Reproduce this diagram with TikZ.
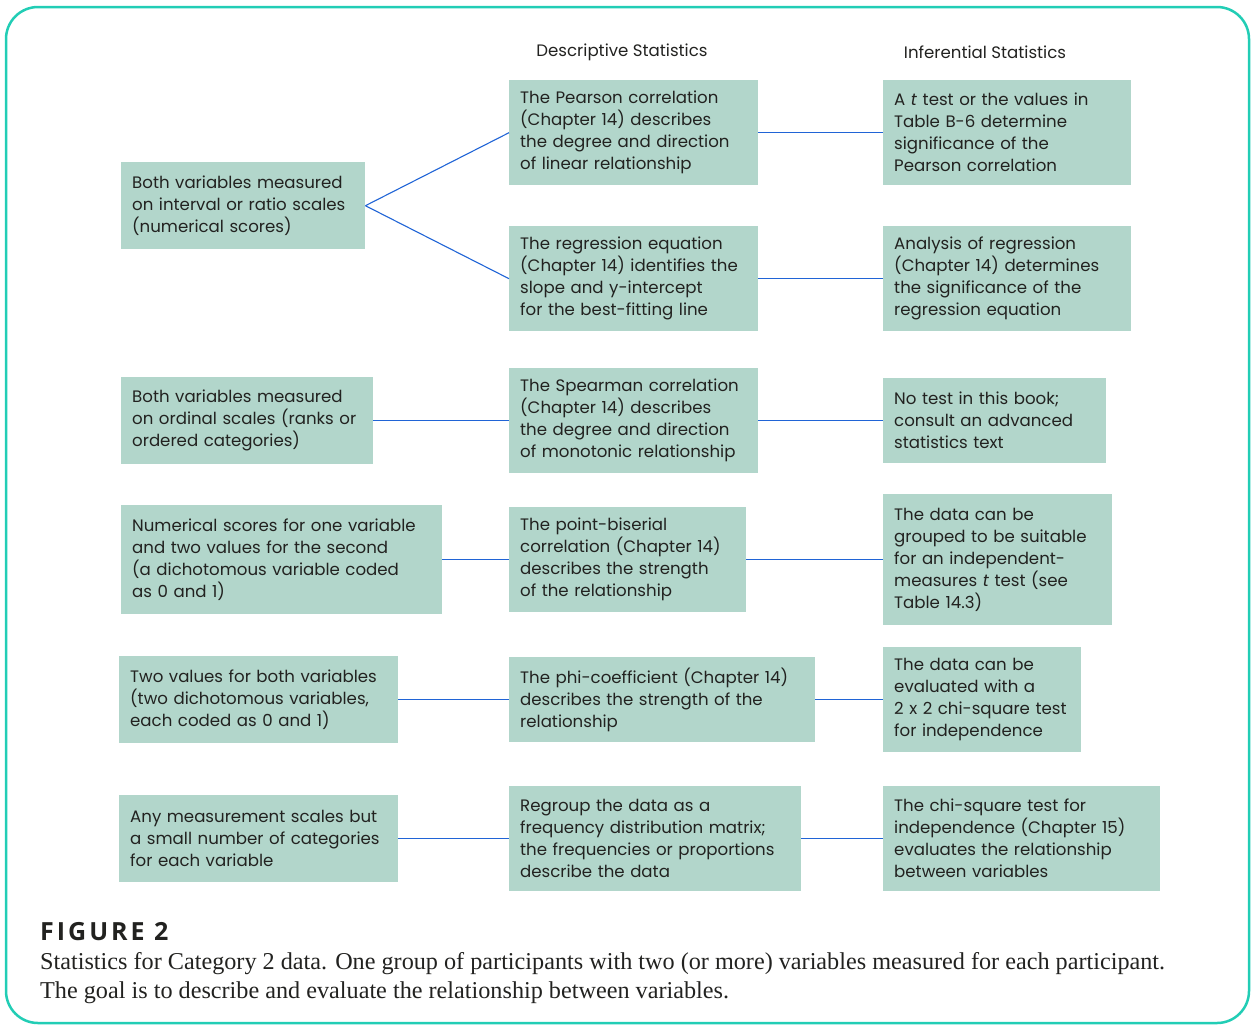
\documentclass[tikz,border=0pt]{standalone}
\usepackage{fontspec}
\setmainfont{Liberation Serif}
\newfontfamily\boxfont{Poppins}
\newfontfamily\figfont[LetterSpace=12]{Open Sans}

\definecolor{rahmen}{HTML}{22CDB5}
\definecolor{kastenfarbe}{HTML}{B2D6CB}
\definecolor{linie}{HTML}{2064D6}
\definecolor{schrift}{HTML}{222220}

\begin{document}
\begin{tikzpicture}[x=1pt, y=-1pt,
    kasten/.style={fill=kastenfarbe, anchor=north west, align=left,
        inner xsep=11pt, inner ysep=0pt, text=schrift,
        font=\boxfont\fontsize{16.6}{22}\selectfont},
    kopf/.style={text=schrift, font=\boxfont\fontsize{16.6}{22}\selectfont},
    verbindung/.style={linie, line width=1.1pt}]

    % Rahmen
    \useasboundingbox (0,0) rectangle (1252,1026);
    \draw[rahmen, line width=2.5pt, rounded corners=32pt] (6,7) rectangle (1249,1023);

    % Spaltenkoepfe
    \node[kopf] (kopfD) at (622,52) {Descriptive Statistics};
    \node[kopf] (kopfI) at (985,52) {Inferential Statistics};

    % Linke Spalte: Datenarten
    \node[kasten, text width=222, minimum height=87] (L1) at (121,162)
        {Both variables measured\\on interval or ratio scales\\(numerical scores)};
    \node[kasten, text width=230, minimum height=87] (L2) at (121,377)
        {Both variables measured\\on ordinal scales (ranks or\\ordered categories)};
    \node[kasten, text width=299, minimum height=109] (L3) at (121,505)
        {Numerical scores for one variable\\and two values for the second\\(a dichotomous variable coded\\as 0 and 1)};
    \node[kasten, text width=257, minimum height=87] (L4) at (119,656)
        {Two values for both variables\\(two dichotomous variables,\\each coded as 0 and 1)};
    \node[kasten, text width=257, minimum height=87] (L5) at (119,795)
        {Any measurement scales but\\a small number of categories\\for each variable};

    % Mittlere Spalte: deskriptive Statistik
    \node[kasten, text width=227, minimum height=105] (M1) at (509,80)
        {The Pearson correlation\\(Chapter 14) describes\\the degree and direction\\of linear relationship};
    \node[kasten, text width=227, minimum height=105] (M2) at (509,226)
        {The regression equation\\(Chapter 14) identifies the\\slope and y-intercept\\for the best-fitting line};
    \node[kasten, text width=227, minimum height=105] (M3) at (509,368)
        {The Spearman correlation\\(Chapter 14) describes\\the degree and direction\\of monotonic relationship};
    \node[kasten, text width=215, minimum height=105] (M4) at (509,507)
        {The point-biserial\\correlation (Chapter 14)\\describes the strength\\of the relationship};
    \node[kasten, text width=284, minimum height=85] (M5) at (509,657)
        {The phi-coefficient (Chapter 14)\\describes the strength of the\\relationship};
    \node[kasten, text width=270, minimum height=105] (M6) at (509,786)
        {Regroup the data as a\\frequency distribution matrix;\\the frequencies or proportions\\describe the data};

    % Rechte Spalte: Inferenzstatistik
    \node[kasten, text width=226, minimum height=105] (R1) at (883,80)
        {A \textit{t} test or the values in\\Table B-6 determine\\significance of the\\Pearson correlation};
    \node[kasten, text width=226, minimum height=105] (R2) at (883,226)
        {Analysis of regression\\(Chapter 14) determines\\the significance of the\\regression equation};
    \node[kasten, text width=201, minimum height=85] (R3) at (883,378)
        {No test in this book;\\consult an advanced\\statistics text};
    \node[kasten, text width=207, minimum height=131] (R4) at (883,494)
        {The data can be\\grouped to be suitable\\for an independent-\\measures \textit{t} test (see\\Table 14.3)};
    \node[kasten, text width=176, minimum height=105] (R5) at (883,647)
        {The data can be\\evaluated with a\\2 x 2 chi-square test\\for independence};
    \node[kasten, text width=255, minimum height=105] (R6) at (883,786)
        {The chi-square test for\\independence (Chapter 15)\\evaluates the relationship\\between variables};

    % Verbindungen
    \draw[verbindung] (L1.east) -- (M1.west);
    \draw[verbindung] (L1.east) -- (M2.west);
    \draw[verbindung] (M1) -- (R1);
    \draw[verbindung] (M2) -- (R2);
    \draw[verbindung] (L2) -- (M3);
    \draw[verbindung] (M3) -- (R3);
    \draw[verbindung] (L3) -- (M4);
    \draw[verbindung] (M4) -- (R4);
    \draw[verbindung] (L4) -- (M5);
    \draw[verbindung] (M5) -- (R5);
    \draw[verbindung] (L5) -- (M6);
    \draw[verbindung] (M6) -- (R6);

    % Bildunterschrift
    \node[anchor=west, inner sep=0pt, text=schrift, font=\figfont\bfseries\fontsize{25}{28}\selectfont]
        (figtitel) at (40,932) {FIGURE 2};
    \node[anchor=north west, inner sep=0pt, align=left, text=schrift, font=\fontsize{24.2}{29}\selectfont]
        (figtext) at (40,952)
        {Statistics for Category 2 data. One group of participants with two (or more) variables measured for each participant.\\
         The goal is to describe and evaluate the relationship between variables.};

\end{tikzpicture}
\end{document}
